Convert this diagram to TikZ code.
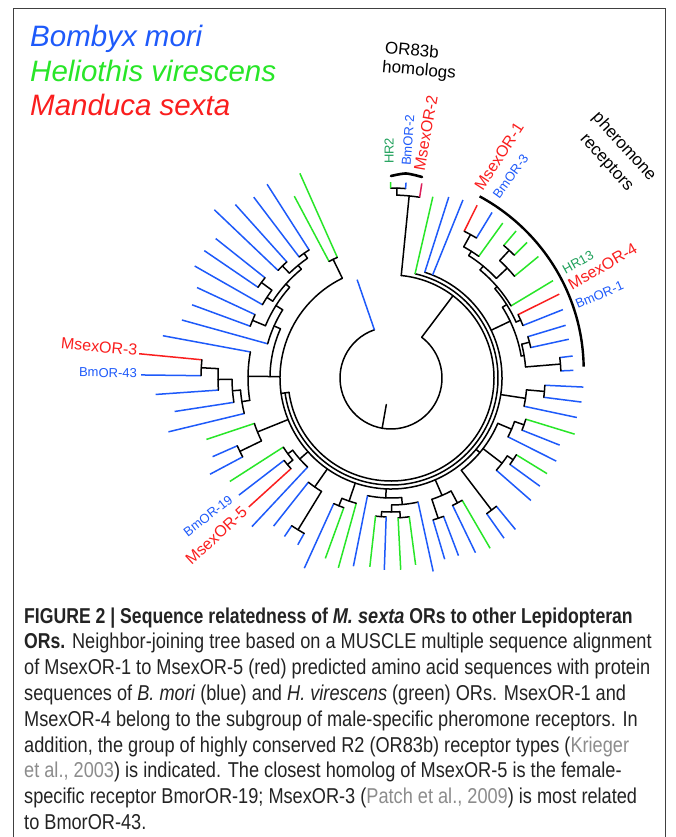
\documentclass[tikz,border=0pt]{standalone}
\usepackage{fontspec}
\setmainfont{Liberation Sans}
\newfontfamily\capfont[FakeStretch=0.845,BoldFeatures={FakeStretch=0.82}]{Liberation Sans}
\definecolor{bmb}{RGB}{30,90,250}
\definecolor{hvg}{RGB}{40,230,40}
\definecolor{hvt}{RGB}{30,160,90}
\definecolor{msr}{RGB}{250,30,30}
\definecolor{msm}{RGB}{220,30,90}
\definecolor{citeg}{RGB}{140,140,140}
\definecolor{captxt}{RGB}{35,35,35}
\newcommand{\tleaf}[4]{\draw[lf,#4] (#1:#2) -- (#1:#3);}
\newcommand{\trad}[3]{\draw[br] (#1:#2) -- (#1:#3);}
\newcommand{\tarc}[3]{\draw[br] (#1:#3) arc[start angle=#1, end angle=#2, radius=#3];}
\begin{document}
\begin{tikzpicture}[x=1pt,y=1pt,
  br/.style={line width=1.5pt,black,line cap=round},
  lf/.style={line width=1.5pt},
  cb/.style={bmb}, cg/.style={hvg}, cr/.style={msr},
  lbl/.style={inner sep=0pt,font=\fontsize{13}{13}\selectfont},
  rlbl/.style={inner sep=0pt,font=\fontsize{16}{16}\selectfont,text=msr},
  grp/.style={inner sep=0pt,font=\fontsize{17}{19}\selectfont},
  capl/.style={anchor=base west,inner sep=0pt,text=captxt,font=\capfont\fontsize{21.5}{22}\selectfont},
  leg/.style={anchor=base west,inner sep=0pt,font=\itshape\fontsize{29.5}{30}\selectfont}]
\useasboundingbox (0,0) rectangle (676,-837);
\fill[white] (0,0) rectangle (676,-837);
\draw[line width=0.9pt,black!75] (13.5,-850) -- (13.5,-8.5) -- (665,-8.5) -- (665,-850);
% legend
\node[leg,text=bmb] (lg1) at (30,-47) {Bombyx mori};
\node[leg,text=hvg] (lg2) at (30,-82) {Heliothis virescens};
\node[leg,text=msr] (lg3) at (30,-116) {Manduca sexta};
% group labels
\node[grp,rotate=-5] (orl1) at (412,-50) {OR83b};
\node[grp,rotate=-5] (orl2) at (419,-71) {homologs};
\node[grp,rotate=-48] (phl1) at (624,-147) {pheromone};
\node[grp,rotate=-48] (phl2) at (606,-163) {receptors};
% OR83b bracket
\draw[line width=2.6pt,line cap=round] plot[smooth] coordinates {(391,-176) (406,-173.5) (422,-177)};
\begin{scope}[shift={(391,-378)}]
% pheromone bracket
\draw[line width=2.4pt] plot[domain=3.4:64,samples=50] (\x:{193+(\x-3.4)*0.15});
% root
\tarc{109}{413}{51}
\trad{260}{27}{51}
\tleaf{109}{51}{104}{cb}
\trad{53}{51}{103}
% concentric backbone
\tarc{84.3}{-172}{103}
\tarc{77}{-172}{107}
\tarc{72.3}{-244}{111}
\trad{-172}{103}{111}
% OR83b
\trad{84.3}{103}{183}
\tarc{81}{88.2}{183}
\draw[lf,msm] (81:183) -- (81:197);
\trad{88.2}{183}{190}
\tarc{85.6}{90.1}{190}
\tleaf{90.1}{190}{196}{cg}
\tleaf{85.6}{190}{196}{cb}
% three top leaves
\tleaf{77}{107}{186}{cg}
\tleaf{72.3}{111}{190}{cb}
\tleaf{68}{111}{192}{cb}
% pheromone group
\tleaf{2.4}{170}{182.5}{cb}
\tleaf{6.9}{170}{183}{cb}
\tarc{2.4}{6.9}{170} \trad{4.7}{135}{170}
\tleaf{12.3}{143}{182}{cb}
\tleaf{16.8}{143}{182.4}{cb}
\tarc{12.3}{16.8}{143} \trad{14.5}{135}{143}
\tarc{4.7}{14.5}{135} \trad{9.6}{132}{135}
\tleaf{21.7}{142}{185}{cb}
\tleaf{26.5}{142}{188}{cr}
\tarc{21.7}{26.5}{142} \trad{24.1}{137}{142}
\tleaf{31}{140}{189}{cg}
\tleaf{39.5}{160}{191}{cg}
\tleaf{44.9}{174}{192}{cg}
\tleaf{49.6}{174}{193}{cg}
\tarc{44.9}{49.6}{174} \trad{47.2}{160}{174}
\tarc{39.5}{47.2}{160} \trad{43.4}{145}{160}
\tleaf{54.2}{150}{191}{cg}
\tleaf{58.6}{164}{194}{cb}
\tleaf{63.5}{164}{193}{cr}
\tarc{58.6}{63.5}{164} \trad{61}{150}{164}
\tarc{54.2}{61}{150} \trad{57.6}{145}{150}
\tarc{43.4}{57.6}{145} \trad{50.5}{140}{145}
\tarc{31}{50.5}{140} \trad{40.7}{137}{140}
\tarc{24.1}{40.7}{137} \trad{32.4}{132}{137}
\tarc{9.6}{32.4}{132} \trad{25.5}{111}{132}
% R4
\tleaf{348}{136}{190}{cb}
\tleaf{352.8}{154}{192}{cb}
\tleaf{357.3}{154}{192.5}{cb}
\tarc{352.8}{357.3}{154} \trad{355}{136}{154}
\tarc{348}{355}{136} \trad{351.4}{111}{136}
% R2 R3
\tleaf{305.2}{166}{196}{cb}
\tleaf{309.4}{166}{196}{cb}
\tarc{305.2}{309.4}{166} \trad{307.3}{116}{166}
\tleaf{318.8}{140}{186}{cb}
\tleaf{324}{147}{184}{cb}
\tleaf{328.5}{147}{183}{cg}
\tarc{324}{328.5}{147} \trad{326.2}{140}{147}
\tarc{318.8}{326.2}{140} \trad{322.5}{116}{140}
\tleaf{333.3}{131}{185}{cb}
\tleaf{338.3}{141}{181.5}{cb}
\tleaf{343}{141}{192}{cg}
\tarc{338.3}{343}{141} \trad{340.6}{131}{141}
\tarc{333.3}{340.6}{131} \trad{337}{116}{131}
\tarc{307.3}{337}{116} \trad{320}{111}{116}
% R1
\tleaf{286.5}{148}{189}{cb}
\tleaf{290.8}{148}{190}{cb}
\tarc{286.5}{290.8}{148} \trad{288.6}{128}{148}
\tleaf{295.8}{141.5}{194}{cb}
\tleaf{300.2}{141.5}{197}{cg}
\tarc{295.8}{300.2}{141.5} \trad{298}{128}{141.5}
\tarc{288.6}{298}{128} \trad{293.5}{111}{128}
% bottom cluster
\trad{267.5}{111}{120}
\tarc{258.7}{275.1}{120}
\tleaf{258.7}{120}{192}{cb}
\trad{275.1}{120}{127}
\tarc{270.3}{282.3}{127}
\tleaf{282.3}{127}{198}{cb}
\trad{270.3}{127}{134}
\tarc{266}{273.8}{134}
\trad{266}{134}{139}
\tarc{263.6}{268}{139}
\tleaf{263.6}{139}{190}{cg}
\tleaf{268}{139}{192}{cb}
\trad{273.8}{134}{140}
\tarc{272.9}{277.5}{140}
\tleaf{272.9}{140}{192}{cg}
\tleaf{277.5}{140}{188.5}{cg}
% bottom-left
\tleaf{245.5}{138}{209}{cb}
\tleaf{250}{138}{192}{cg}
\tarc{245.5}{250}{138} \trad{247.8}{130}{138}
\tleaf{254.5}{130}{197}{cg}
\tarc{247.8}{254.5}{130} \trad{251.2}{111}{130}
% 231-241
\tleaf{231.6}{133}{189}{cb}
\tleaf{236.1}{178}{191}{cb}
\tleaf{240.8}{178}{191}{cb}
\tarc{236.1}{240.8}{178} \trad{238.5}{133}{178}
\tarc{231.6}{238.5}{133} \trad{235}{111}{133}
% MsexOR-5 group
\tleaf{212.7}{128}{191.5}{cg}
\tleaf{217.6}{135}{192}{cb}
\tleaf{222.2}{135}{192}{cr}
\tarc{217.6}{222.2}{135} \trad{219.9}{128}{135}
\tarc{212.7}{219.9}{128} \trad{216.3}{122}{128}
\tleaf{226.9}{122}{203.5}{cb}
\tarc{216.3}{226.9}{122} \trad{221.6}{111}{122}
% lower-left
\tleaf{198.4}{144}{194.5}{cg}
\tleaf{203.8}{168}{195}{cb}
\tleaf{208}{168}{205}{cb}
\tarc{203.8}{208}{168} \trad{205.9}{144}{168}
\tarc{198.4}{205.9}{144} \trad{202}{111}{144}
% left group
\tleaf{169.5}{143}{232}{cb}
\tleaf{174.5}{190}{253}{cr}
\tleaf{179.3}{190}{250}{cb}
\tarc{174.5}{179.3}{190} \trad{176.9}{173}{190}
\tleaf{184}{173}{236}{cb}
\tarc{176.9}{184}{173} \trad{180.5}{159}{173}
\tleaf{188.8}{159}{219}{cb}
\tarc{180.5}{188.8}{159} \trad{184.6}{151}{159}
\tleaf{193.6}{151}{229}{cb}
\tarc{184.6}{193.6}{151} \trad{189}{143}{151}
\tarc{169.5}{189}{143} \trad{179.3}{111}{143}
% top-left group
\tleaf{118}{132}{206}{cg}
\tleaf{114}{132}{224}{cg}
\tarc{114}{118}{132} \trad{116}{111}{132}
\tleaf{122.6}{152}{230}{cb}
\tleaf{127.2}{152}{227}{cb}
\tarc{122.6}{127.2}{152} \trad{124.9}{146}{152}
\tleaf{131.9}{156}{233}{cb}
\tleaf{136.4}{156}{244}{cb}
\tarc{131.9}{136.4}{156} \trad{134.1}{146}{156}
\tarc{124.9}{134.1}{146} \trad{129.5}{141}{146}
\tleaf{141.5}{161}{224}{cb}
\tleaf{145.7}{161}{226}{cb}
\tarc{141.5}{145.7}{161} \trad{143.6}{148}{161}
\tleaf{150.3}{148}{226}{cb}
\tarc{143.6}{150.3}{148} \trad{147}{141}{148}
\tarc{129.5}{147}{141} \trad{138.2}{136}{141}
\tleaf{155}{150}{214}{cb}
\tleaf{159.8}{150}{212}{cb}
\tarc{155}{159.8}{150} \trad{157.4}{136}{150}
\tarc{138.2}{157.4}{136} \trad{147.8}{128}{136}
\tleaf{164.5}{128}{217}{cb}
\tarc{147.8}{164.5}{128} \trad{156}{121}{128}
\tarc{156}{179.3}{121}
% leaf labels
\node[lbl,text=hvt,rotate=90,anchor=mid west] (l1) at (90:214) {HR2};
\node[lbl,text=bmb,rotate=86,anchor=mid west] (l2) at (85.4:213) {BmOR-2};
\node[rlbl,rotate=80,anchor=mid west] (l3) at (81.5:209) {MsexOR-2};
\node[rlbl,rotate=57,anchor=mid west] (l4) at (64.5:208) {MsexOR-1};
\node[lbl,text=bmb,rotate=54,anchor=mid west] (l5) at (59.5:209) {BmOR-3};
\node[lbl,text=hvt,rotate=29,anchor=mid west] (l6) at (31.5:203) {HR13};
\node[rlbl,rotate=30,anchor=mid west] (l7) at (26.6:201) {MsexOR-4};
\node[lbl,text=bmb,rotate=23,anchor=mid west] (l8) at (21.1:199) {BmOR-1};
\node[rlbl,rotate=-5.6,anchor=mid east] (l9) at (174.4:255) {MsexOR-3};
\node[lbl,text=bmb,rotate=-0.7,anchor=mid east] (l10) at (179.3:254) {BmOR-43};
\node[lbl,text=bmb,rotate=37.7,anchor=mid east] (l11) at (217.4:200) {BmOR-19};
\node[rlbl,rotate=42.5,anchor=mid east] (l12) at (222.8:197) {MsexOR-5};
\end{scope}
% caption
\node[capl] (c1) at (24,-623) {\textbf{FIGURE 2 | Sequence relatedness of \textit{M. sexta} ORs to other Lepidopteran}};
\node[capl] (c2) at (24,-648.8) {\textbf{ORs.} Neighbor-joining tree based on a MUSCLE multiple sequence alignment};
\node[capl] (c3) at (24,-674.6) {of MsexOR-1 to MsexOR-5 (red) predicted amino acid sequences with protein};
\node[capl] (c4) at (24,-700.4) {sequences of \textit{B. mori} (blue) and \textit{H. virescens} (green) ORs. MsexOR-1 and};
\node[capl] (c5) at (24,-726.2) {MsexOR-4 belong to the subgroup of male-specific pheromone receptors. In};
\node[capl] (c6) at (24,-752) {addition, the group of highly conserved R2 (OR83b) receptor types ({\color{citeg}Krieger}};
\node[capl] (c7) at (24,-777.8) {{\color{citeg}et al., 2003}) is indicated. The closest homolog of MsexOR-5 is the female-};
\node[capl] (c8) at (24,-803.6) {specific receptor BmorOR-19; MsexOR-3 ({\color{citeg}Patch et al., 2009}) is most related};
\node[capl] (c9) at (24,-829.4) {to BmorOR-43.};
\end{tikzpicture}
\end{document}
